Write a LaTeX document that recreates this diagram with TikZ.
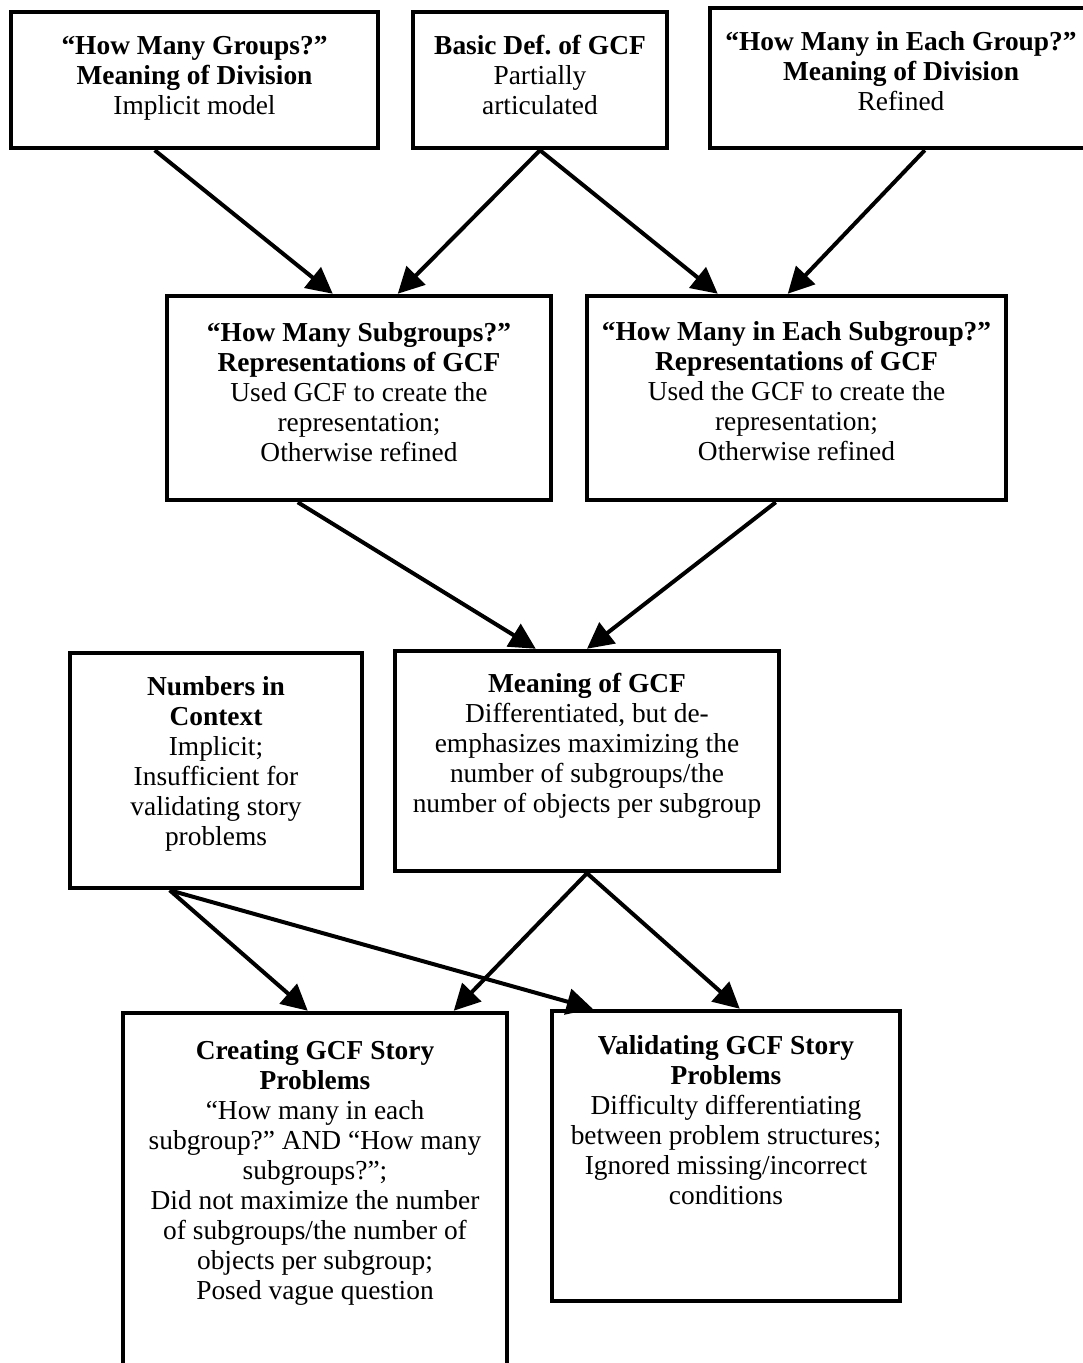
\documentclass[tikz,border=0pt]{standalone}
\usepackage{fontspec}
\setmainfont{Liberation Serif}
\usetikzlibrary{arrows.meta}
\frenchspacing
\begin{document}
\begin{tikzpicture}[x=1pt,y=-1pt,
  box/.style={draw, line width=4.5pt, rectangle, inner sep=0pt},
  txt/.style={anchor=north, align=center, inner sep=0pt,
              font=\fontsize{27.4}{30}\selectfont},
  link/.style={line width=4pt, -{Triangle[length=26pt,width=26pt]}}]
\useasboundingbox (0,0) rectangle (1083,1363);

% boxes
\node[box, minimum width=367pt, minimum height=136pt] (A) at (194.5,80) {};
\node[box, minimum width=254pt, minimum height=136pt] (B) at (540,80) {};
\node[box, minimum width=382pt, minimum height=140pt] (C) at (901,78) {};
\node[box, minimum width=384pt, minimum height=204pt] (D) at (359,398) {};
\node[box, minimum width=419pt, minimum height=204pt] (E) at (796.5,398) {};
\node[box, minimum width=292pt, minimum height=235pt] (F) at (216,770.5) {};
\node[box, minimum width=384pt, minimum height=220pt] (G) at (587,761) {};
\node[box, minimum width=384pt, minimum height=407pt] (H) at (315,1216.5) {};
\node[box, minimum width=348pt, minimum height=290pt] (I) at (726,1156) {};

% texts
\node[txt] (At) at ([yshift=-24pt]A.north) {\strut\textbf{“How Many Groups?”}\\\textbf{Meaning of Division}\\Implicit model};
\node[txt] (Bt) at ([yshift=-24pt]B.north) {\strut\textbf{Basic Def. of GCF}\\Partially\\articulated};
\node[txt] (Ct) at ([yshift=-24pt]C.north) {\strut\textbf{“How Many in Each Group?”}\\\textbf{Meaning of Division}\\Refined};
\node[txt] (Dt) at ([yshift=-27pt]D.north) {\strut\textbf{“How Many Subgroups?”}\\\textbf{Representations of GCF}\\Used GCF to create the\\representation;\\Otherwise refined};
\node[txt] (Et) at ([yshift=-26pt]E.north) {\strut\textbf{“How Many in Each Subgroup?”}\\\textbf{Representations of GCF}\\Used the GCF to create the\\representation;\\Otherwise refined};
\node[txt] (Ft) at ([yshift=-24pt]F.north) {\strut\textbf{Numbers in}\\\textbf{Context}\\Implicit;\\Insufficient for\\validating story\\problems};
\node[txt] (Gt) at ([yshift=-23pt]G.north) {\strut\textbf{Meaning of GCF}\\Differentiated, but de-\\emphasizes maximizing the\\number of subgroups/the\\number of objects per subgroup};
\node[txt] (Ht) at ([yshift=-28pt]H.north) {\strut\textbf{Creating GCF Story}\\\textbf{Problems}\\“How many in each\\subgroup?” AND “How many\\subgroups?”;\\Did not maximize the number\\of subgroups/the number of\\objects per subgroup;\\Posed vague question};
\node[txt] (It) at ([yshift=-25pt]I.north) {\strut\textbf{Validating GCF Story}\\\textbf{Problems}\\Difficulty differentiating\\between problem structures;\\Ignored missing/incorrect\\conditions};

% connectors
\draw[link] ([xshift=146pt]A.south west) -- ([xshift=168pt]D.north west);
\draw[link] (B.south) -- ([xshift=233pt]D.north west);
\draw[link] (B.south) -- ([xshift=133pt]E.north west);
\draw[link] ([xshift=217pt]C.south west) -- ([xshift=203pt]E.north west);
\draw[link] ([xshift=133pt]D.south west) -- ([xshift=143pt]G.north west);
\draw[link] ([xshift=191pt]E.south west) -- (G.north);
\draw[link] ([xshift=102pt]F.south west) -- ([xshift=187pt]H.north west);
\draw[link] ([xshift=102pt]F.south west) -- ([xshift=43pt]I.north west);
\draw[link] (G.south) -- ([xshift=333pt]H.north west);
\draw[link] (G.south) -- ([xshift=190pt]I.north west);
\end{tikzpicture}
\end{document}
